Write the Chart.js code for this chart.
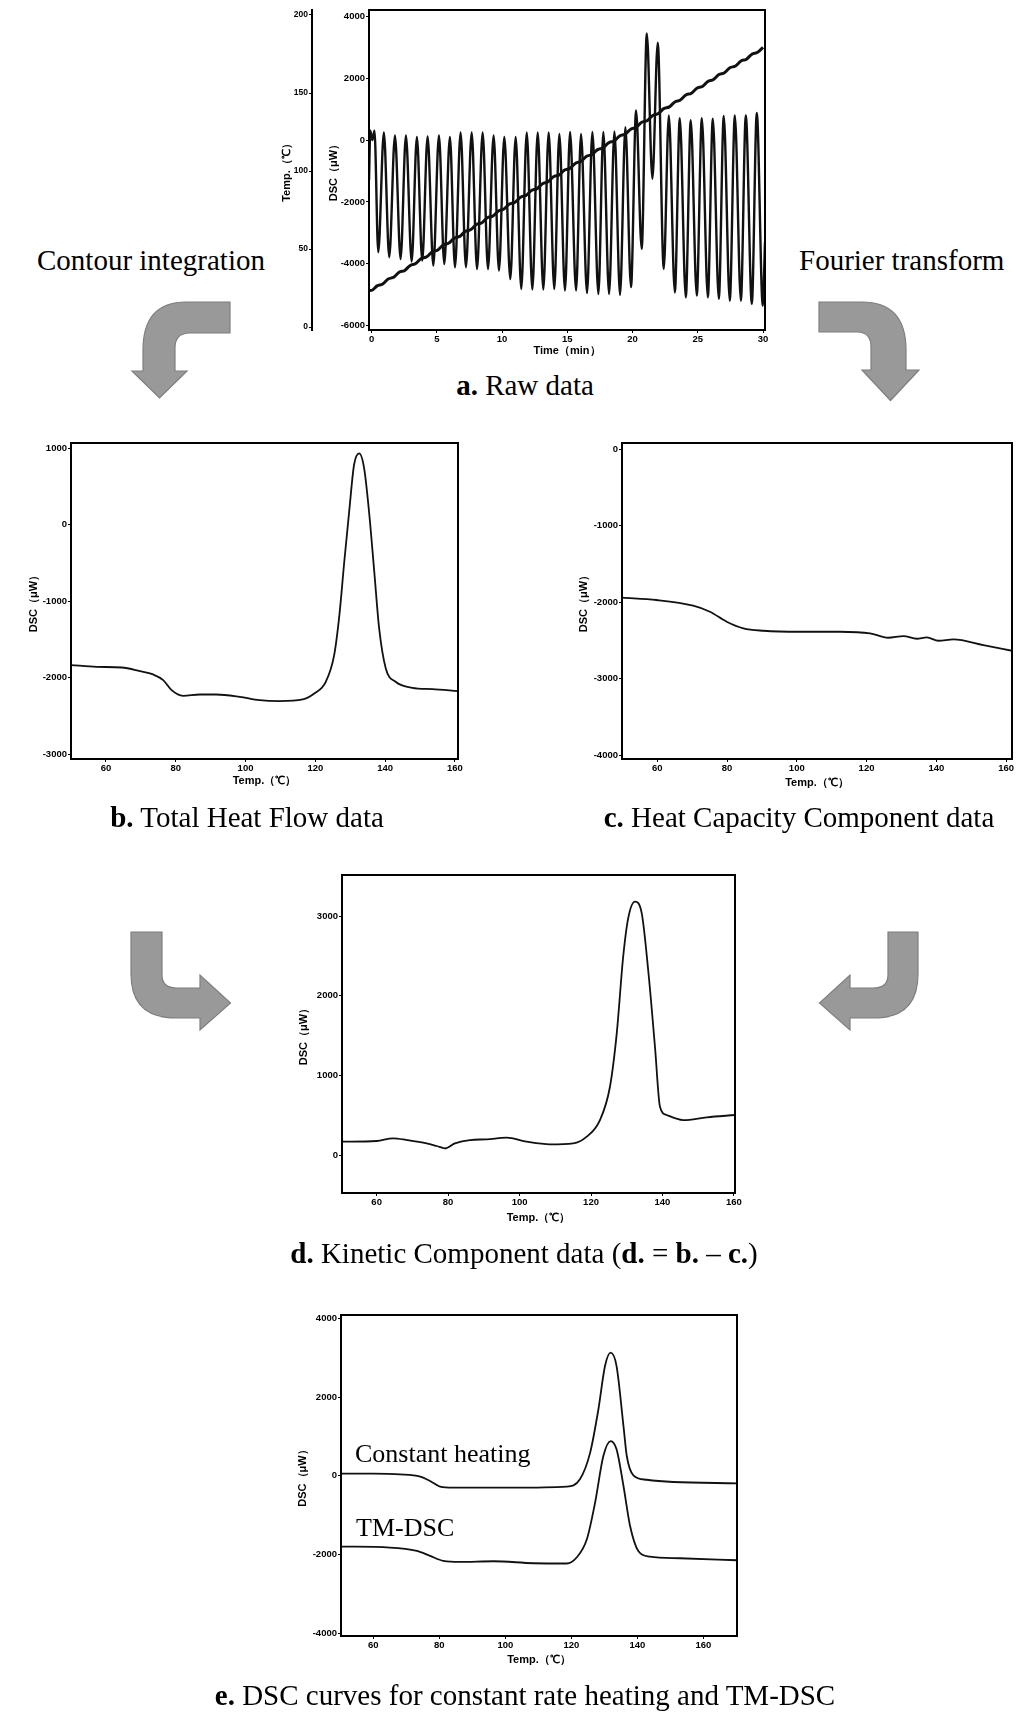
<!DOCTYPE html>
<html>
<head>
<meta charset="utf-8">
<script src="https://cdn.jsdelivr.net/npm/chart.js@4.4.1/dist/chart.umd.min.js"></script>
<style>
  html, body { margin: 0; padding: 0; background: #fff; }
  body { width: 1017px; height: 1712px; position: relative; overflow: hidden; }
  canvas { position: absolute; }
  .lbl { position: absolute; font-family: "Liberation Serif", "Times New Roman", serif; font-size: 29px; line-height: 29px; color: #000; white-space: nowrap; }
  .cap { text-align: center; width: 700px; margin-left: -350px; }
  .inner { font-size: 26px; line-height: 26px; }
  svg { position: absolute; left: 0; top: 0; }
</style>
</head>
<body>
<svg width="1017" height="1712">
  <g fill="#999" stroke="#7f7f7f" stroke-width="1.2">
    <path d="M230,302 L186,302 Q143,302 143,350 L143,371 L132,371 L159.5,398 L187,371 L175,371 L175,348 Q175,333 190,333 L230,333 Z"/>
    <path d="M819,302 L862,302 Q906,302 906,350 L906,370 L919,370 L890.5,400.5 L862,370 L871,370 L871,347 Q871,332 857,332 L819,332 Z"/>
    <path d="M131,932 L162,932 L162,975 Q162,988 177,988 L200,988 L200,975 L230.5,1003 L200,1030 L200,1018 L176,1018 Q131,1018 131,974 Z"/>
    <path d="M918,932 L888,932 L888,975 Q888,988 873,988 L850,988 L850,975 L819.5,1003 L850,1030 L850,1018 L874,1018 Q918,1018 918,974 Z"/>
  </g>
</svg>

<canvas id="chartA" width="500" height="365" style="left:280px;top:0px"></canvas>
<canvas id="chartB" width="470" height="380" style="left:0px;top:430px"></canvas>
<canvas id="chartC" width="467" height="380" style="left:550px;top:430px"></canvas>
<canvas id="chartD" width="480" height="380" style="left:270px;top:862px"></canvas>
<canvas id="chartE" width="480" height="380" style="left:270px;top:1302px"></canvas>

<div class="lbl" style="left:37px;top:246px">Contour integration</div>
<div class="lbl" style="left:799px;top:246px">Fourier transform</div>
<div class="lbl cap" style="left:525px;top:371px"><b>a.</b> Raw data</div>
<div class="lbl cap" style="left:247px;top:803px"><b>b.</b> Total Heat Flow data</div>
<div class="lbl cap" style="left:799px;top:803px"><b>c.</b> Heat Capacity Component data</div>
<div class="lbl cap" style="left:524px;top:1239px"><b>d.</b> Kinetic Component data (<b>d.</b> = <b>b.</b> – <b>c.</b>)</div>
<div class="lbl cap" style="left:525px;top:1681px"><b>e.</b> DSC curves for constant rate heating and TM-DSC</div>
<div class="lbl inner" style="left:355px;top:1441px">Constant heating</div>
<div class="lbl inner" style="left:356px;top:1515px">TM-DSC</div>

<script>
// a. raw data: DSC extrema (min) and modulated temperature
const aTime = [-0.2, -0.1, 0.05, 0.22, 0.51, 0.94, 1.35, 1.79, 2.22, 2.63, 3.07, 3.47, 3.88, 4.29, 4.73, 5.16, 5.57, 6.00, 6.39, 6.82,
  7.23, 7.67, 8.08, 8.51, 8.92, 9.35, 9.76, 10.17, 10.63, 11.04, 11.47, 11.89, 12.32, 12.73, 13.16, 13.57, 14.00, 14.39, 14.82, 15.21,
  15.67, 16.05, 16.51, 16.92, 17.38, 17.76, 18.20, 18.61, 19.04, 19.45, 19.88, 20.27, 20.70, 21.09, 21.52, 21.93, 22.39, 22.78, 23.24, 23.62,
  24.08, 24.46, 24.92, 25.31, 25.77, 26.15, 26.61, 26.99, 27.45, 27.84, 28.30, 28.68, 29.14, 29.52, 29.98, 30.15];
const aDsc = [-1300, 300, 0, 300, -3630, 250, -3790, 150, -3850, 150, -3930, 100, -3900, 120, -4060, 150, -4010, 100, -4120, 250,
  -4120, 250, -4170, 250, -4170, 150, -4220, 100, -4500, 100, -4820, 250, -4840, 250, -4840, 250, -4820, 200, -4870, 260,
  -4870, 200, -4950, 260, -4980, 260, -4980, 280, -5010, 420, -4760, 960, -3520, 3450, -1250, 3150, -4170, 800, -4930, 710,
  -5090, 640, -5030, 710, -5090, 690, -5140, 780, -5200, 800, -5200, 800, -5300, 875, -5360, -3300];
const aTempTime = [-0.2, 0.0, 0.42, 0.85, 1.27, 1.69, 2.11, 2.54, 2.96, 3.38, 3.80, 4.23, 4.65, 5.07, 5.49, 5.92, 6.34, 6.76, 7.18, 7.61,
  8.03, 8.45, 8.87, 9.30, 9.72, 10.14, 10.56, 10.99, 11.41, 11.83, 12.25, 12.68, 13.10, 13.52, 13.94, 14.37, 14.79, 15.21, 15.63, 16.06,
  16.48, 16.90, 17.32, 17.75, 18.17, 18.59, 19.01, 19.44, 19.86, 20.28, 20.70, 21.13, 21.55, 21.97, 22.39, 22.82, 23.24, 23.66, 24.08, 24.51,
  24.93, 25.35, 25.77, 26.20, 26.62, 27.04, 27.46, 27.89, 28.31, 28.73, 29.15, 29.58, 30.00];
const aTemp = [23.4, 23.5, 26.4, 27.6, 30.8, 31.9, 35.1, 36.3, 39.5, 40.7, 43.9, 45.0, 48.2, 49.4, 52.6, 53.8, 57.0, 58.1, 61.3, 62.5,
  65.7, 66.9, 70.1, 71.2, 74.4, 75.6, 78.8, 80.0, 83.2, 84.4, 87.5, 88.7, 91.9, 93.1, 96.3, 97.5, 100.6, 101.8, 105.0, 106.2,
  109.4, 110.6, 113.7, 114.9, 118.1, 119.3, 122.5, 123.7, 126.8, 128.0, 131.2, 132.4, 135.6, 136.8, 140.0, 141.1, 144.3, 145.5, 148.7, 149.9,
  153.1, 154.2, 157.4, 158.6, 161.8, 163.0, 166.2, 167.3, 170.5, 171.7, 174.9, 176.1, 179.3];
const aXTicks = [0, 5, 10, 15, 20, 25, 30];
const aYTicks = [-6000, -4000, -2000, 0, 2000, 4000];
const aTempTicks = [0, 50, 100, 150, 200];

// b. total heat flow
const bTemp = [50, 57.3, 64.5, 69.7, 73.5, 76.4, 78.8, 82.1, 86.9, 91.6, 98.3, 104, 109.7, 116.4, 119.7, 123, 125.4, 126.9, 128.3, 129.7,
  131.1, 132.6, 134, 135.4, 136.9, 138.3, 140.2, 143, 147.8, 153.5, 160.9];
const bDsc = [-1836, -1859, -1868, -1915, -1959, -2033, -2164, -2238, -2221, -2221, -2251, -2295, -2308, -2286, -2208, -2055, -1706, -1182, -484, 170,
  781, 933, 737, 170, -615, -1357, -1881, -2055, -2134, -2151, -2177];
const bYTicks = [-3000, -2000, -1000, 0, 1000];

// c. heat capacity component
const cTemp = [50, 59.8, 70.3, 75.1, 79.9, 84.7, 90.4, 100.9, 112.4, 121, 126.2, 130.6, 134.4, 137.3, 140.6, 144.9, 153.5, 161.7];
const cDsc = [-1942, -1972, -2047, -2126, -2256, -2343, -2374, -2387, -2387, -2408, -2466, -2444, -2479, -2461, -2505, -2487, -2561, -2636];
const cYTicks = [-4000, -3000, -2000, -1000, 0];

// d. kinetic component
const dTemp = [50, 60, 64.6, 68.4, 74, 76.8, 79.1, 81.9, 86.1, 90.8, 96.4, 102, 108.5, 115, 118.8, 122.5, 125.3, 127.2, 129, 130.4,
  132.3, 134.2, 136, 137.9, 139.3, 141.2, 145.8, 152.4, 160.3];
const dDsc = [167, 176, 209, 188, 146, 113, 84, 146, 188, 197, 217, 167, 134, 146, 230, 439, 857, 1527, 2489, 2971,
  3180, 3034, 2322, 1359, 606, 502, 439, 473, 502];
const dYTicks = [0, 1000, 2000, 3000];

// e. constant heating vs TM-DSC
const eConstTemp = [50, 60, 68.1, 74.2, 77.2, 80.2, 84.2, 102.4, 118.6, 122.6, 125.7, 128.2, 130.2, 131.9, 133.7, 135.8, 136.8, 138.8, 142.8, 150.9, 170.2];
const eConstDsc = [56, 56, 38, -20, -132, -274, -300, -300, -274, -89, 589, 1688, 2787, 3127, 2787, 1264, 503, 13, -100, -157, -190];
const eTmTemp = [50, 65, 73.2, 77.2, 81.2, 86.3, 96.4, 108.5, 118.6, 121.6, 124.7, 127.2, 129.7, 131.9, 133.7, 135.8, 137.8, 140.3, 143.8, 152.9, 170.2];
const eTmDsc = [-1797, -1822, -1909, -2035, -2162, -2188, -2170, -2221, -2228, -2076, -1612, -680, 503, 883, 673, -259, -1274, -1909, -2051, -2094, -2145];
const eYTicks = [-4000, -2000, 0, 2000, 4000];

const tempXTicks = [60, 80, 100, 120, 140, 160];

const sans = '"Liberation Sans", Arial, sans-serif';
const tickFont = { family: sans, size: 9.5, weight: 'bold' };
const smallTickFont = { family: sans, size: 8.5, weight: 'bold' };
const titleFont = { family: sans, size: 11, weight: 'bold', lineHeight: 1.2 };

function pts(xs, ys) {
    return xs.map((x, i) => ({ x: x, y: ys[i] }));
}

function fixSize(size, horizontal) {
    return function (scale) {
        if (horizontal) scale.height = size;
        else scale.width = size;
        scale.paddingLeft = scale.paddingRight = scale.paddingTop = scale.paddingBottom = 0;
    };
}

function useTicks(values) {
    return function (scale) {
        scale.ticks = values.map(v => ({ value: v }));
    };
}

function axis(pos, min, max, ticks, title, size, titlePad, extra) {
    const horizontal = pos === 'bottom';
    return Object.assign({
        type: 'linear',
        position: pos,
        min: min,
        max: max,
        afterBuildTicks: useTicks(ticks),
        afterFit: fixSize(size, horizontal),
        grid: { drawOnChartArea: false, drawTicks: true, tickLength: 3, color: '#000', lineWidth: 1 },
        border: { display: false },
        ticks: { color: '#000', font: tickFont, padding: 1, maxRotation: 0, autoSkip: false, callback: v => String(v) },
        title: {
            display: true, text: title, color: '#000', font: titleFont,
            padding: horizontal ? { top: 0, bottom: titlePad } : { top: titlePad, bottom: 0 }
        }
    }, extra || {});
}

// the closed box round every plot area
const frame = {
    id: 'frame',
    afterDatasetsDraw(chart) {
        const a = chart.chartArea;
        const ctx = chart.ctx;
        ctx.save();
        ctx.strokeStyle = '#000';
        ctx.lineWidth = 2;
        ctx.strokeRect(a.left, a.top, a.right - a.left, a.bottom - a.top);
        ctx.restore();
    }
};

function line(data, width, yAxisID) {
    const ds = {
        data: data,
        borderColor: '#111',
        borderWidth: width,
        pointRadius: 0,
        fill: false,
        cubicInterpolationMode: 'monotone'
    };
    if (yAxisID) ds.yAxisID = yAxisID;
    return ds;
}

function makeChart(id, datasets, scales, padding) {
    new Chart(document.getElementById(id), {
        type: 'line',
        data: { datasets: datasets },
        options: {
            responsive: false,
            animation: false,
            devicePixelRatio: 1,
            layout: { padding: padding },
            plugins: { legend: { display: false }, tooltip: { enabled: false } },
            scales: scales
        },
        plugins: [frame]
    });
}

const tempTitle = 'Temp.（℃）';
const dscTitle = 'DSC（μW）';

makeChart('chartA',
    [line(pts(aTime, aDsc), 2.4, 'y'), line(pts(aTempTime, aTemp), 3, 'yT')],
    {
        x: axis('bottom', -0.2, 30.15, aXTicks, 'Time（min）', 35, 7),
        y: axis('left', -6146, 4210, aYTicks, dscTitle, 57, 15, { weight: 0 }),
        yT: axis('left', -1.9, 203.2, aTempTicks, tempTitle, 32, 0, {
            weight: 1,
            border: { display: true, color: '#000', width: 2 },
            ticks: { color: '#000', font: smallTickFont, padding: 1, autoSkip: false, callback: v => String(v) }
        })
    },
    { top: 10, right: 15, left: 0, bottom: 0 });

makeChart('chartB',
    [line(pts(bTemp, bDsc), 1.8)],
    {
        x: axis('bottom', 49.97, 160.9, tempXTicks, tempTitle, 51, 22),
        y: axis('left', -3065, 1069, bYTicks, dscTitle, 71, 27)
    },
    { top: 13, right: 12, left: 0, bottom: 0 });

makeChart('chartC',
    [line(pts(cTemp, cDsc), 1.8)],
    {
        x: axis('bottom', 49.9, 161.7, tempXTicks, tempTitle, 51, 20),
        y: axis('left', -4052, 82, cYTicks, dscTitle, 72, 27)
    },
    { top: 13, right: 5, left: 0, bottom: 0 });

makeChart('chartD',
    [line(pts(dTemp, dDsc), 1.8)],
    {
        x: axis('bottom', 50.3, 160.3, tempXTicks, tempTitle, 49, 17),
        y: axis('left', -477, 3515, dYTicks, dscTitle, 72, 27)
    },
    { top: 13, right: 15, left: 0, bottom: 0 });

makeChart('chartE',
    [line(pts(eConstTemp, eConstDsc), 1.8), line(pts(eTmTemp, eTmDsc), 1.8)],
    {
        x: axis('bottom', 50.2, 170.2, tempXTicks, tempTitle, 46, 15),
        y: axis('left', -4069, 4084, eYTicks, dscTitle, 71, 26)
    },
    { top: 13, right: 13, left: 0, bottom: 0 });
</script>
</body>
</html>
